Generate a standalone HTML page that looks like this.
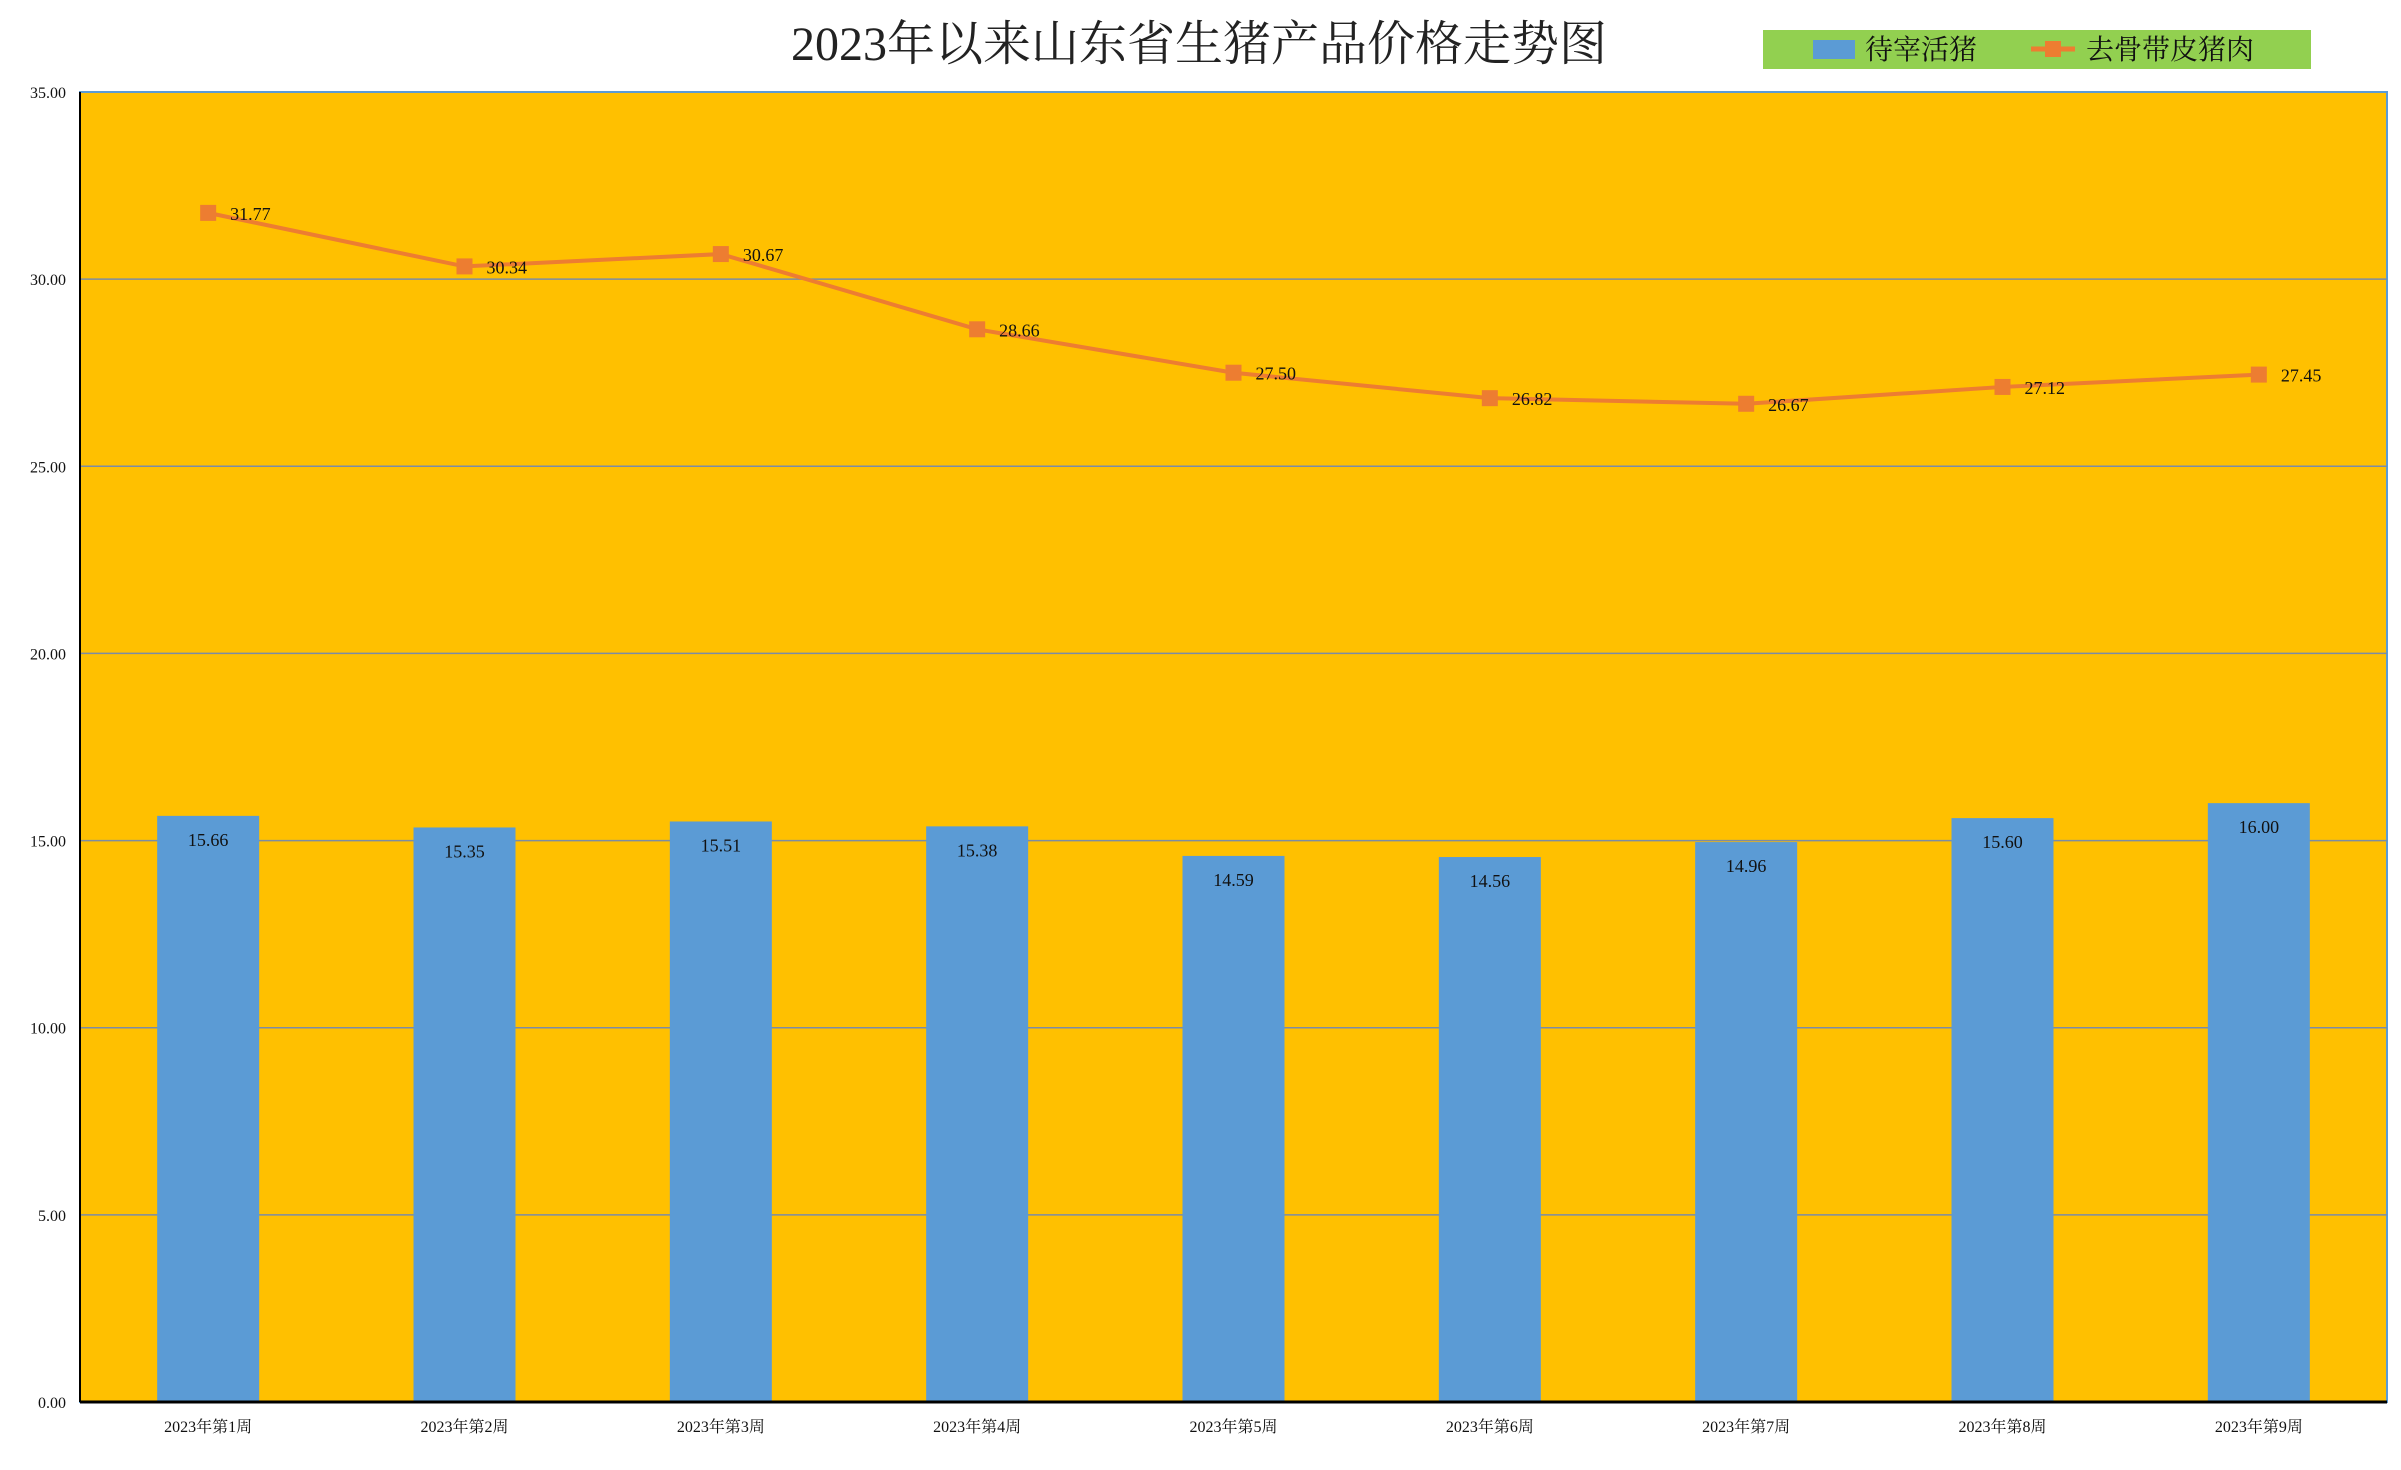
<!DOCTYPE html>
<html><head><meta charset="utf-8"><style>
body{margin:0;background:#fff;}
svg text{font-family:"Liberation Serif","Noto Serif CJK SC",serif;}
</style></head><body>
<svg id="chart" width="2401" height="1465" xmlns="http://www.w3.org/2000/svg">
<rect width="2401" height="1465" fill="#fff"/>
<text x="1199" y="60" font-size="48" text-anchor="middle" fill="#222">2023年以来山东省生猪产品价格走势图</text>
<g>
<rect x="1763" y="30" width="548" height="39" fill="#92d050"/>
<rect x="1813" y="40" width="42" height="19" fill="#5b9bd5"/>
<text x="1865" y="59" font-size="28" fill="#111">待宰活猪</text>
<line x1="2031" y1="49" x2="2075" y2="49" stroke="#ed7d31" stroke-width="5"/>
<rect x="2045" y="41" width="16" height="16" fill="#ed7d31"/>
<text x="2086" y="59" font-size="28" fill="#111">去骨带皮猪肉</text>
</g>
<rect x="80" y="92" width="2307" height="1310" fill="#ffc000" stroke="#5b9bd5" stroke-width="2"/>
<g id="grid"></g><g id="bars"></g><g id="line"></g><g id="axes"></g>
</svg>
<script>
const categories=["2023年第1周","2023年第2周","2023年第3周","2023年第4周","2023年第5周","2023年第6周","2023年第7周","2023年第8周","2023年第9周"];
const hogPrices=[15.66,15.35,15.51,15.38,14.59,14.56,14.96,15.60,16.00];
const porkPrices=[31.77,30.34,30.67,28.66,27.50,26.82,26.67,27.12,27.45];
const yTicks=[0,5,10,15,20,25,30,35];
const NS="http://www.w3.org/2000/svg";
const L=80,R=2387,T=92,B=1402,YMAX=35;
const bw=(R-L)/categories.length;
const xc=i=>L+bw*(i+0.5);
const y=v=>B-(v/YMAX)*(B-T);
function mk(tag,attrs,parent,txt){const e=document.createElementNS(NS,tag);for(const k in attrs)e.setAttribute(k,attrs[k]);if(txt!==undefined)e.textContent=txt;document.getElementById(parent).appendChild(e);return e;}
yTicks.forEach(t=>{
  if(t>0&&t<YMAX){const g=mk('line',{x1:L,x2:R,y1:y(t),y2:y(t),stroke:'#7c8ca4','stroke-width':1.5},'grid');
  
  }
  const tx=mk('text',{x:66,y:y(t)+6,'font-size':16,'text-anchor':'end',fill:'#111'},'axes',t.toFixed(2));
  
  
});
hogPrices.forEach((v,i)=>{
  const r=mk('rect',{x:xc(i)-51,y:y(v),width:102,height:B-y(v),fill:'#5b9bd5'},'bars');
  
  
  const t=mk('text',{x:xc(i),y:y(v)+30,'font-size':18,'text-anchor':'middle',fill:'#111'},'bars',v.toFixed(2));
  
  
});
const pts=porkPrices.map((v,i)=>xc(i)+','+y(v)).join(' ');
const pl=mk('polyline',{points:pts,fill:'none',stroke:'#ed7d31','stroke-width':4},'line');


porkPrices.forEach((v,i)=>{
  const m=mk('rect',{x:xc(i)-8,y:y(v)-8,width:16,height:16,fill:'#ed7d31'},'line');
  
  
  const t=mk('text',{x:xc(i)+22,y:y(v)+7,'font-size':18,fill:'#111'},'line',v.toFixed(2));
  
  
});
categories.forEach((c,i)=>{
  const t=mk('text',{x:xc(i),y:1432,'font-size':16,'text-anchor':'middle',fill:'#111'},'axes',c);
  
  
});
const ax=mk('line',{x1:L,x2:R,y1:B,y2:B,stroke:'#000','stroke-width':3},'axes');


const ay=mk('line',{x1:L,x2:L,y1:T,y2:B,stroke:'#000','stroke-width':2},'axes');


</script>
</body></html>
